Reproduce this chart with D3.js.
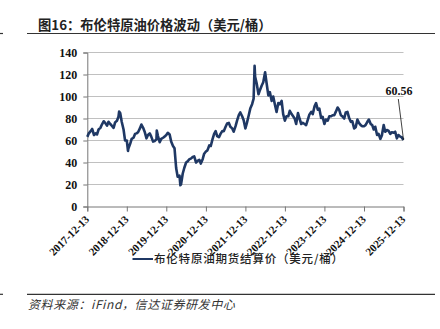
<!DOCTYPE html>
<html><head><meta charset="utf-8">
<script src="https://cdn.jsdelivr.net/npm/d3@7"></script>
<style>
html,body{margin:0;padding:0;background:#fff;}
svg{display:block;}
</style></head><body>
<svg id="c" width="440" height="329"></svg>
<script>
// Semi-monthly Brent settlement estimates (USD/bbl), Dec 2017 - Dec 2025
const months = d3.timeMonths(new Date(2017,11,1), new Date(2026,0,1));
const priceEarly = [63.3,68.5,65,65.5,71.5,77.5,73.5,75,71.5,78,85,70,60, 57,62.5,66.5,71,71.5,62,66.5,59,61,58.5,62.5,65, 65.5,55,35,28,30,40,43,45,40,42.5,43,50, 55.5,61.5,68.5,63,68.5,72.5,76,71,73,83,82,71, 83,93,118,102,110,122,101,96,92,94,96,78, 82,84,80,85,75,75,79,86,91,88,80.5,75, 78,82,83,90,83,80,86,77,71,79,74,73, 77,75,70,65,61.5,74,69.5,66,67,62,63.5,62];
const priceLate  = [66.5,70.5,66.5,70,74.5,76,77,73.5,76.5,81.5,77,60,52.5, 61.5,66,67.5,74.5,68,65,63.5,59.5,64,61.5,63.5,67, 59,53,27,20,35,41,43.5,45.5,41.5,39,48,51, 55,66,64,66,68.5,75.5,72.5,68,78,85.5,78.5,76, 89,98,112,106,113,112,104,100,86,93,84,82, 87,82,75,80,76,74,83.5,84,94,89,81.5,79, 82,83,86,88,82,85.5,81,77.5,72,76,73,74, 79,74,72.5,66,64.5,68,69,67.5,68,65,63,60.56];
const peakDates = [new Date(2018,9,3), new Date(2018,11,24), new Date(2019,8,16), new Date(2020,3,21), new Date(2022,2,8)];
const peakValues = [86.3, 50.5, 69, 19.3, 128];
const yTicks = [0,20,40,60,80,100,120,140];
const xTickLabels = ["2017-12-13","2018-12-13","2019-12-13","2020-12-13","2021-12-13","2022-12-13","2023-12-13","2024-12-13","2025-12-13"];
const lastLabel = "60.56";

const SERIF = "'Liberation Serif', 'Times New Roman', serif";
const parse = d3.timeParse("%Y-%m-%d");
let data = [];
months.forEach((m,i)=>{
  const d1 = new Date(m.getFullYear(), m.getMonth(), 13);
  const d2 = new Date(m.getFullYear(), m.getMonth(), 27);
  if (i===months.length-1) { data.push({d:new Date(m.getFullYear(), m.getMonth(), 1),v:priceEarly[i]}); data.push({d:d1,v:priceLate[i]}); }
  else { data.push({d:d1,v:priceEarly[i]}); data.push({d:d2,v:priceLate[i]}); }
});
peakDates.forEach((d,i)=>data.push({d:d,v:peakValues[i]}));
data.sort((a,b)=>a.d-b.d);

const svg = d3.select("#c");
const L=87.3, R=403.5, T=52.5, B=206.5;
const x = d3.scaleTime().domain([parse("2017-12-13"), parse("2025-12-13")]).range([L,R]);
const y = d3.scaleLinear().domain([0,140]).range([B,T]);

// frame lines
[[27,435,33.5],[0,3,33.5],[27,435,294.3],[0,3,294.3]].forEach(s=>{
  svg.append("line").attr("x1",s[0]).attr("x2",s[1]).attr("y1",s[2]).attr("y2",s[2]).attr("stroke","#333").attr("stroke-width",1.2);
});

svg.append("text").attr("x",38).attr("y",30).text("图16：布伦特原油价格波动（美元/桶）")
  .style("font-family","'Noto Sans CJK SC'").style("font-weight","700").style("font-size","13.3px").attr("fill","#222");

// gridlines
svg.append("g").selectAll("line").data(yTicks.filter(t=>t>0)).join("line")
  .attr("x1",L).attr("x2",R).attr("y1",d=>y(d)).attr("y2",d=>y(d)).attr("stroke","#c0c0c0").attr("stroke-width",1);

// y axis
const yAxis = d3.axisLeft(y).tickValues(yTicks).tickSize(4).tickPadding(6);
const gy = svg.append("g").attr("transform",`translate(${L},0)`).call(yAxis);
gy.select(".domain").attr("stroke","#777");
gy.selectAll(".tick line").attr("stroke","#777");
gy.selectAll("text").style("font-family",SERIF).style("font-weight","700").style("font-size","12px").attr("fill","#111");

// x axis
const xTickDates = xTickLabels.map(parse);
const xAxis = d3.axisBottom(x).tickValues(xTickDates).tickSize(5).tickFormat(d3.timeFormat("%Y-%m-%d"));
const gx = svg.append("g").attr("transform",`translate(0,${B})`).call(xAxis);
gx.select(".domain").attr("stroke","#777");
gx.selectAll(".tick line").attr("stroke","#777");
gx.selectAll("text").style("font-family",SERIF).style("font-weight","700").style("font-size","11px").attr("fill","#111")
  .attr("text-anchor","end").attr("dy",null).attr("y",0)
  .attr("transform","translate(2.2,13.5) rotate(-45)");

// line
svg.append("path").datum(data).attr("fill","none").attr("stroke","#1f3864").attr("stroke-width",2.6).attr("stroke-linejoin","round")
  .attr("d", d3.line().x(d=>x(d.d)).y(d=>y(d.v)));

// annotation
const last = data[data.length-1];
svg.append("line").attr("x1",398.3).attr("y1",99).attr("x2",x(last.d)).attr("y2",y(last.v)).attr("stroke","#111").attr("stroke-width",0.8);
svg.append("text").attr("x",399).attr("y",95).attr("text-anchor","middle").text(lastLabel)
  .style("font-family",SERIF).style("font-weight","700").style("font-size","12px").attr("fill","#111");

// legend
svg.append("line").attr("x1",132.5).attr("x2",153).attr("y1",259).attr("y2",259).attr("stroke","#1f3864").attr("stroke-width",2);
svg.append("text").attr("x",154).attr("y",263).text("布伦特原油期货结算价（美元/桶）")
  .style("font-family","'Noto Sans CJK SC'").style("font-weight","500").style("font-size","11.5px").attr("fill","#222").attr("letter-spacing",0.8);

// source
svg.append("text").attr("x",28).attr("y",309).text("资料来源：iFind，信达证券研发中心")
  .style("font-family","'Noto Sans CJK SC'").style("font-style","italic").style("font-size","12px").attr("fill","#333").attr("letter-spacing",0.6);
</script>
</body></html>
